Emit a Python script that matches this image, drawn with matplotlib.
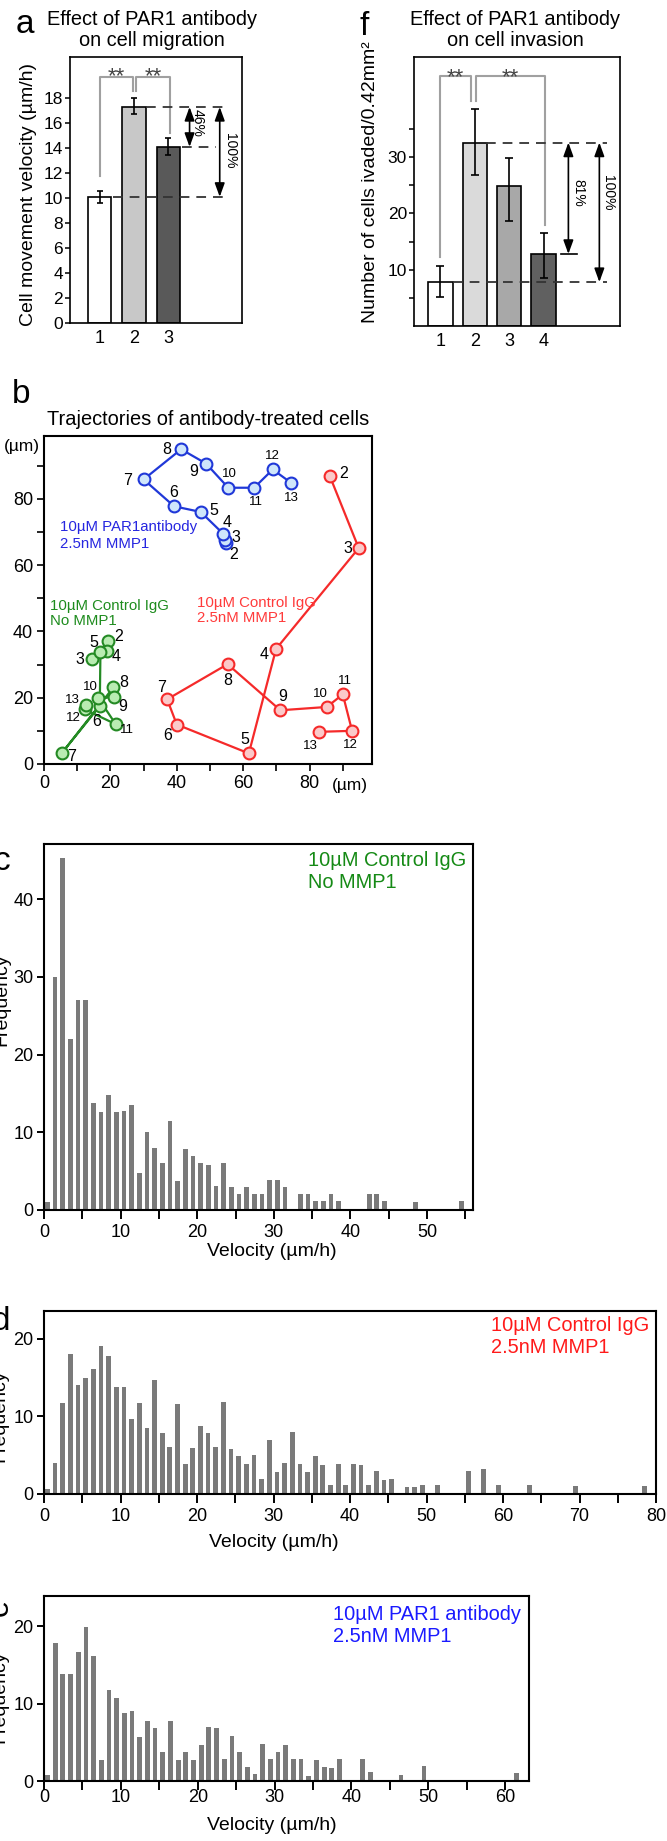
import matplotlib
matplotlib.use('Agg')
import matplotlib.pyplot as plt
from matplotlib.ticker import MultipleLocator
import numpy as np

plt.rcParams['font.family'] = ['Liberation Sans', 'DejaVu Sans']
plt.rcParams['lines.scale_dashes'] = False

# a - cell migration
mig_groups = ['1', '2', '3']
mig_mean = [10.1, 17.3, 14.1]
mig_err_lo = [0.5, 0.6, 0.65]
mig_err_hi = [0.5, 0.75, 0.7]
mig_colors = ['white', '#c8c8c8', '#595959']

# f - cell invasion
inv_groups = ['1', '2', '3', '4']
inv_mean = [7.8, 32.6, 24.9, 12.8]
inv_err_lo = [2.7, 5.7, 6.2, 4.2]
inv_err_hi = [2.8, 6.0, 5.0, 3.8]
inv_colors = ['white', '#dadada', '#a8a8a8', '#606060']

# b - trajectories (frames 2..13)
frames = list(range(2, 14))
blue_x = [54.7, 54.5, 53.9, 47.2, 39.2, 30.0, 41.3, 48.8, 55.5, 63.3, 68.9, 74.4]
blue_y = [66.5, 67.5, 69.5, 76.0, 77.7, 85.8, 94.9, 90.6, 83.3, 83.3, 88.8, 84.8]
red_x = [86.1, 94.8, 69.9, 61.7, 40.0, 37.1, 55.3, 71.2, 85.2, 90.0, 92.8, 82.8]
red_y = [86.8, 65.1, 34.7, 3.2, 11.9, 19.5, 30.1, 16.2, 17.2, 21.0, 10.0, 9.7]
green_x = [19.4, 14.4, 18.9, 17.0, 16.8, 5.3, 20.9, 21.2, 16.4, 21.6, 12.2, 12.8]
green_y = [37.0, 31.6, 34.1, 33.7, 17.5, 3.2, 23.1, 20.2, 19.8, 12.0, 16.5, 17.8]

# c, d, e - velocity histograms (1 um/h bins)
freq_c = [1, 30, 45.3, 22, 27, 27, 13.8, 12.6, 14.8, 12.6,
          12.7, 13.5, 4.8, 10, 8, 6, 11.5, 3.7, 7.9, 6.9,
          6, 5.8, 3.1, 6, 3, 2, 3, 2.1, 2, 3.9,
          3.9, 3, 0, 2, 2, 1.2, 1.1, 2, 1.1, 0,
          0, 0, 2, 2, 1.1, 0, 0, 0, 1, 0,
          0, 0, 0, 0, 1.1, 0]
freq_d = [0.7, 4, 11.8, 18, 14, 15, 16.1, 19.1, 17.8, 13.8,
          13.8, 9.7, 11.8, 8.5, 14.7, 7.9, 6, 11.6, 3.9, 5.9,
          8.8, 7.9, 6, 11.9, 5.8, 4.85, 3.9, 5, 1.9, 7,
          2.9, 4, 8, 3.9, 2.9, 4.85, 3.7, 1.1, 3.9, 1.1,
          3.9, 3.8, 1.1, 3, 1.75, 1.9, 0, 0.86, 0.86, 1.2,
          0, 1.2, 0, 0, 0, 3, 0, 3.2, 0, 1.2,
          0, 0, 0, 1.2, 0, 0, 0, 0, 0, 1,
          0, 0, 0, 0, 0, 0, 0, 0, 1, 0]
freq_e = [0.8, 17.8, 13.8, 13.85, 16.7, 19.9, 16.1, 2.7, 11.7, 10.75,
          8.8, 9.1, 5.7, 7.8, 6.8, 3.8, 7.8, 2.75, 3.8, 2.75,
          4.7, 7.0, 6.8, 2.9, 5.8, 3.7, 1.8, 0.95, 4.8, 2.9,
          3.7, 4.7, 2.8, 2.9, 0.7, 2.75, 1.85, 1.7, 2.9, 0,
          0, 2.8, 1.1, 0, 0, 0, 0.8, 0, 0, 1.9,
          0, 0, 0, 0, 0, 0, 0, 0, 0, 0,
          0, 1.0, 0]

W, H = 667, 1841
fig = plt.figure(figsize=(W / 100, H / 100), dpi=100)


def add_box(x0, y0, x1, y1):
    return fig.add_axes([x0 / W, 1 - y1 / H, (x1 - x0) / W, (y1 - y0) / H])


def ftext(x, y, s, **kw):
    return fig.text(x / W, 1 - y / H, s, **kw)


dash = dict(color='#333333', lw=1.3, dashes=(7, 5), zorder=4)
arrow = dict(arrowstyle='<|-|>,head_length=0.55,head_width=0.2', color='black',
             lw=1.2, mutation_scale=15, shrinkA=0, shrinkB=0)
gray = '#a0a0a0'

# ---------- a ----------
ax = add_box(70, 57, 242, 323)
xa = np.arange(1, len(mig_mean) + 1)
ax.bar(xa, mig_mean, width=0.68, color=mig_colors, edgecolor='black', linewidth=1.2, zorder=2)
ax.errorbar(xa, mig_mean, yerr=[mig_err_lo, mig_err_hi], fmt='none', ecolor='black',
            elinewidth=1.2, capsize=2.5, capthick=1.2, zorder=3)
ax.set_xlim(0.13, 5.15)
ax.set_ylim(0, 21.3)
ax.set_xticks(xa, mig_groups)
ax.set_yticks(np.arange(0, 19, 2))
ax.tick_params(axis='x', length=0, labelsize=13, pad=5)
ax.tick_params(axis='y', length=3.6, width=1.1, labelsize=12.5, pad=1.5)
for s in ax.spines.values():
    s.set_linewidth(1.2)
ax.set_ylabel('Cell movement velocity (µm/h)', fontsize=14)
ax.yaxis.set_label_coords((37 - 70) / 172, (323 - 194) / 266)
ax.plot([1, 1, 1.97, 1.97], [11.8, 19.7, 19.7, 18.6], color=gray, lw=1.5)
ax.plot([2.07, 2.07, 3.04, 3.04], [18.6, 19.7, 19.7, 15.2], color=gray, lw=1.5)
ax.text(1.49, 19.3, '**', ha='center', va='baseline', fontsize=16, color='#444444')
ax.text(2.55, 19.3, '**', ha='center', va='baseline', fontsize=16, color='#444444')
ax.plot([2.36, 4.69], [mig_mean[1]] * 2, **dash)
ax.plot([3.41, 4.40], [mig_mean[2]] * 2, **dash)
ax.plot([1.39, 4.69], [mig_mean[0]] * 2, **dash)
ax.annotate('', xy=(3.62, mig_mean[2]), xytext=(3.62, mig_mean[1]), arrowprops=arrow)
ax.annotate('', xy=(4.50, mig_mean[0]), xytext=(4.50, mig_mean[1]), arrowprops=arrow)
ax.text(3.86, 16.0, '46%', rotation=-90, ha='center', va='center', fontsize=10)
ax.text(4.79, 13.8, '100%', rotation=-90, ha='center', va='center', fontsize=10)
ftext(25, 33, 'a', fontsize=24, ha='center', va='baseline')
ftext(152, 25, 'Effect of PAR1 antibody', fontsize=14.4, ha='center', va='baseline')
ftext(152, 46, 'on cell migration', fontsize=14.4, ha='center', va='baseline')

# ---------- f ----------
ax = add_box(414, 57, 620, 326)
xf = np.arange(1, len(inv_mean) + 1)
ax.bar(xf, inv_mean, width=0.71, color=inv_colors, edgecolor='black', linewidth=1.2, zorder=2)
ax.errorbar(xf, inv_mean, yerr=[inv_err_lo, inv_err_hi], fmt='none', ecolor='black',
            elinewidth=1.2, capsize=3.1, capthick=1.2, zorder=3)
ax.set_xlim(0.233, 6.22)
ax.set_ylim(0, 47.8)
ax.set_xticks(xf, inv_groups)
yt = np.arange(5, 40, 5)
ax.set_yticks(yt, [str(v) if v % 10 == 0 else '' for v in yt])
ax.tick_params(axis='x', length=0, labelsize=13, pad=5)
ax.tick_params(axis='y', length=3.6, width=1.1, labelsize=12.5, pad=1.5)
for s in ax.spines.values():
    s.set_linewidth(1.2)
ax.set_ylabel('Number of cells ivaded/0.42mm²', fontsize=14)
ax.yaxis.set_label_coords((379 - 414) / 206, (326 - 182) / 269)
ax.plot([1, 1, 1.9, 1.9], [12.2, 44.4, 44.4, 39.9], color=gray, lw=1.5)
ax.plot([2.03, 2.03, 4.04, 4.04], [39.9, 44.4, 44.4, 18.0], color=gray, lw=1.5)
ax.text(1.42, 43.2, '**', ha='center', va='baseline', fontsize=16, color='#444444')
ax.text(3.02, 43.2, '**', ha='center', va='baseline', fontsize=16, color='#444444')
ax.plot([2.34, 5.83], [inv_mean[1]] * 2, **dash)
ax.plot([1.37, 5.83], [inv_mean[0]] * 2, **dash)
ax.plot([4.5, 4.96], [inv_mean[3]] * 2, color='black', lw=1.2)
ax.annotate('', xy=(4.72, inv_mean[3]), xytext=(4.72, inv_mean[1]), arrowprops=arrow)
ax.annotate('', xy=(5.62, inv_mean[0]), xytext=(5.62, inv_mean[1]), arrowprops=arrow)
ax.text(5.0, 23.6, '81%', rotation=-90, ha='center', va='center', fontsize=10)
ax.text(5.88, 23.6, '100%', rotation=-90, ha='center', va='center', fontsize=10)
ftext(364, 35, 'f', fontsize=24, ha='center', va='baseline')
ftext(515, 25, 'Effect of PAR1 antibody', fontsize=14.4, ha='center', va='baseline')
ftext(515, 46, 'on cell invasion', fontsize=14.4, ha='center', va='baseline')

# ---------- b ----------
ax = add_box(44, 436, 372, 764)
ax.set_xlim(0, 98.8)
ax.set_ylim(0, 98.9)
for axis in (ax.xaxis, ax.yaxis):
    axis.set_major_locator(MultipleLocator(20))
    axis.set_minor_locator(MultipleLocator(10))
ax.tick_params(which='both', length=5, width=1.2, labelsize=13, pad=3)
for s in ax.spines.values():
    s.set_linewidth(1.5)

tracks = [
    (blue_x, blue_y, '#2038d8', '#cfe6fb',
     [(8, -11), (11, 3), (4, 11), (13, 1), (0, 14), (-16, -1), (-14, 0), (-12, -8),
      (1, 14), (2, -14), (0, 13), (0, -15)]),
    (red_x, red_y, '#f52a2a', '#fbc9c9',
     [(14, 3), (-11, 0), (-12, -6), (-4, 14), (-9, -11), (-6, 12), (0, -16), (2, 14),
      (-6, 13), (2, 13), (-2, -14), (-8, -14)]),
    (green_x, green_y, '#248a24', '#b9ecb2',
     [(10, 5), (-12, 0), (9, -6), (-7, 10), (-3, -16), (10, -3), (10, 5), (8, -9),
      (-8, 11), (11, -6), (-11, -9), (-14, 5)]),
]
for tx, ty, lc, fc, offs in tracks:
    ax.plot(tx, ty, color=lc, lw=1.6, marker='o', markersize=8.5,
            markerfacecolor=fc, markeredgecolor=lc, markeredgewidth=1.5, zorder=3)
    for n, x, y, off in zip(frames, tx, ty, offs):
        ax.annotate(str(n), (x, y), xytext=off, textcoords='offset pixels',
                    ha='center', va='center', fontsize=11.5 if n < 10 else 9.5)

ftext(60, 531, '10µM PAR1antibody', color='#2626e0', fontsize=10.8, va='baseline')
ftext(60, 547.7, '2.5nM MMP1', color='#2626e0', fontsize=10.8, va='baseline')
ftext(50, 610, '10µM Control IgG', color='#1e8c1e', fontsize=10.8, va='baseline')
ftext(50, 625, 'No MMP1', color='#1e8c1e', fontsize=10.8, va='baseline')
ftext(197, 606.7, '10µM Control IgG', color='#ff3b3b', fontsize=10.8, va='baseline')
ftext(197, 621.7, '2.5nM MMP1', color='#ff3b3b', fontsize=10.8, va='baseline')
ftext(22, 447, '(µm)', fontsize=12.5, ha='center', va='center')
ftext(350, 785, '(µm)', fontsize=12.5, ha='center', va='center')
ftext(21, 403, 'b', fontsize=24, ha='center', va='baseline')
ftext(208, 425, 'Trajectories of antibody-treated cells', fontsize=14.4, ha='center', va='baseline')


# ---------- c, d, e ----------
def histogram(box, freq, xmax, ymax, yticks, xlab, ylab, xpad):
    ax = add_box(*box)
    bins = np.arange(len(freq))
    ax.bar(bins + 0.45, freq, width=0.62, color='#7a7a7a', linewidth=0)
    ax.set_xlim(0, xmax)
    ax.set_ylim(0, ymax)
    ax.xaxis.set_major_locator(MultipleLocator(10))
    ax.xaxis.set_minor_locator(MultipleLocator(5))
    ax.set_yticks(yticks)
    ax.tick_params(axis='x', which='both', length=6.5, width=1.4, labelsize=13, pad=xpad)
    ax.tick_params(axis='y', length=5, width=1.4, labelsize=13, pad=2.5)
    for s in ax.spines.values():
        s.set_linewidth(1.5)
    ax.set_xlabel('Velocity (µm/h)', fontsize=14)
    ax.xaxis.set_label_coords(*xlab)
    ax.set_ylabel('Frequency', fontsize=14)
    ax.yaxis.set_label_coords(*ylab)
    return ax


histogram((44, 844, 473, 1210), freq_c, 56, 47.1, [0, 10, 20, 30, 40],
          ((272 - 44) / 429, (1210 - 1243) / 366), ((10 - 44) / 429, 0.574), 3.6)
ftext(308, 866, '10µM Control IgG', color='#158a15', fontsize=14.4, va='baseline')
ftext(308, 888, 'No MMP1', color='#158a15', fontsize=14.4, va='baseline')
ftext(2, 870, 'c', fontsize=24, ha='center', va='baseline')

histogram((44, 1311, 656, 1494), freq_d, 80, 23.6, [0, 10, 20],
          ((274 - 44) / 612, (1494 - 1534) / 183), ((8 - 44) / 612, 0.43), 3.6)
ftext(491, 1331, '10µM Control IgG', color='#ff1a1a', fontsize=14.4, va='baseline')
ftext(491, 1353, '2.5nM MMP1', color='#ff1a1a', fontsize=14.4, va='baseline')
ftext(1, 1330, 'd', fontsize=24, ha='center', va='baseline')

histogram((44, 1596, 529, 1781), freq_e, 63.1, 23.9, [0, 10, 20],
          ((272 - 44) / 485, (1781 - 1817) / 185), ((8 - 44) / 485, 0.454), -1)
ftext(333, 1620, '10µM PAR1 antibody', color='#1a1aff', fontsize=14.4, va='baseline')
ftext(333, 1642, '2.5nM MMP1', color='#1a1aff', fontsize=14.4, va='baseline')
ftext(0, 1608, 'e', fontsize=22, rotation=90, ha='center', va='center')

fig.savefig('out.png', dpi=100)
